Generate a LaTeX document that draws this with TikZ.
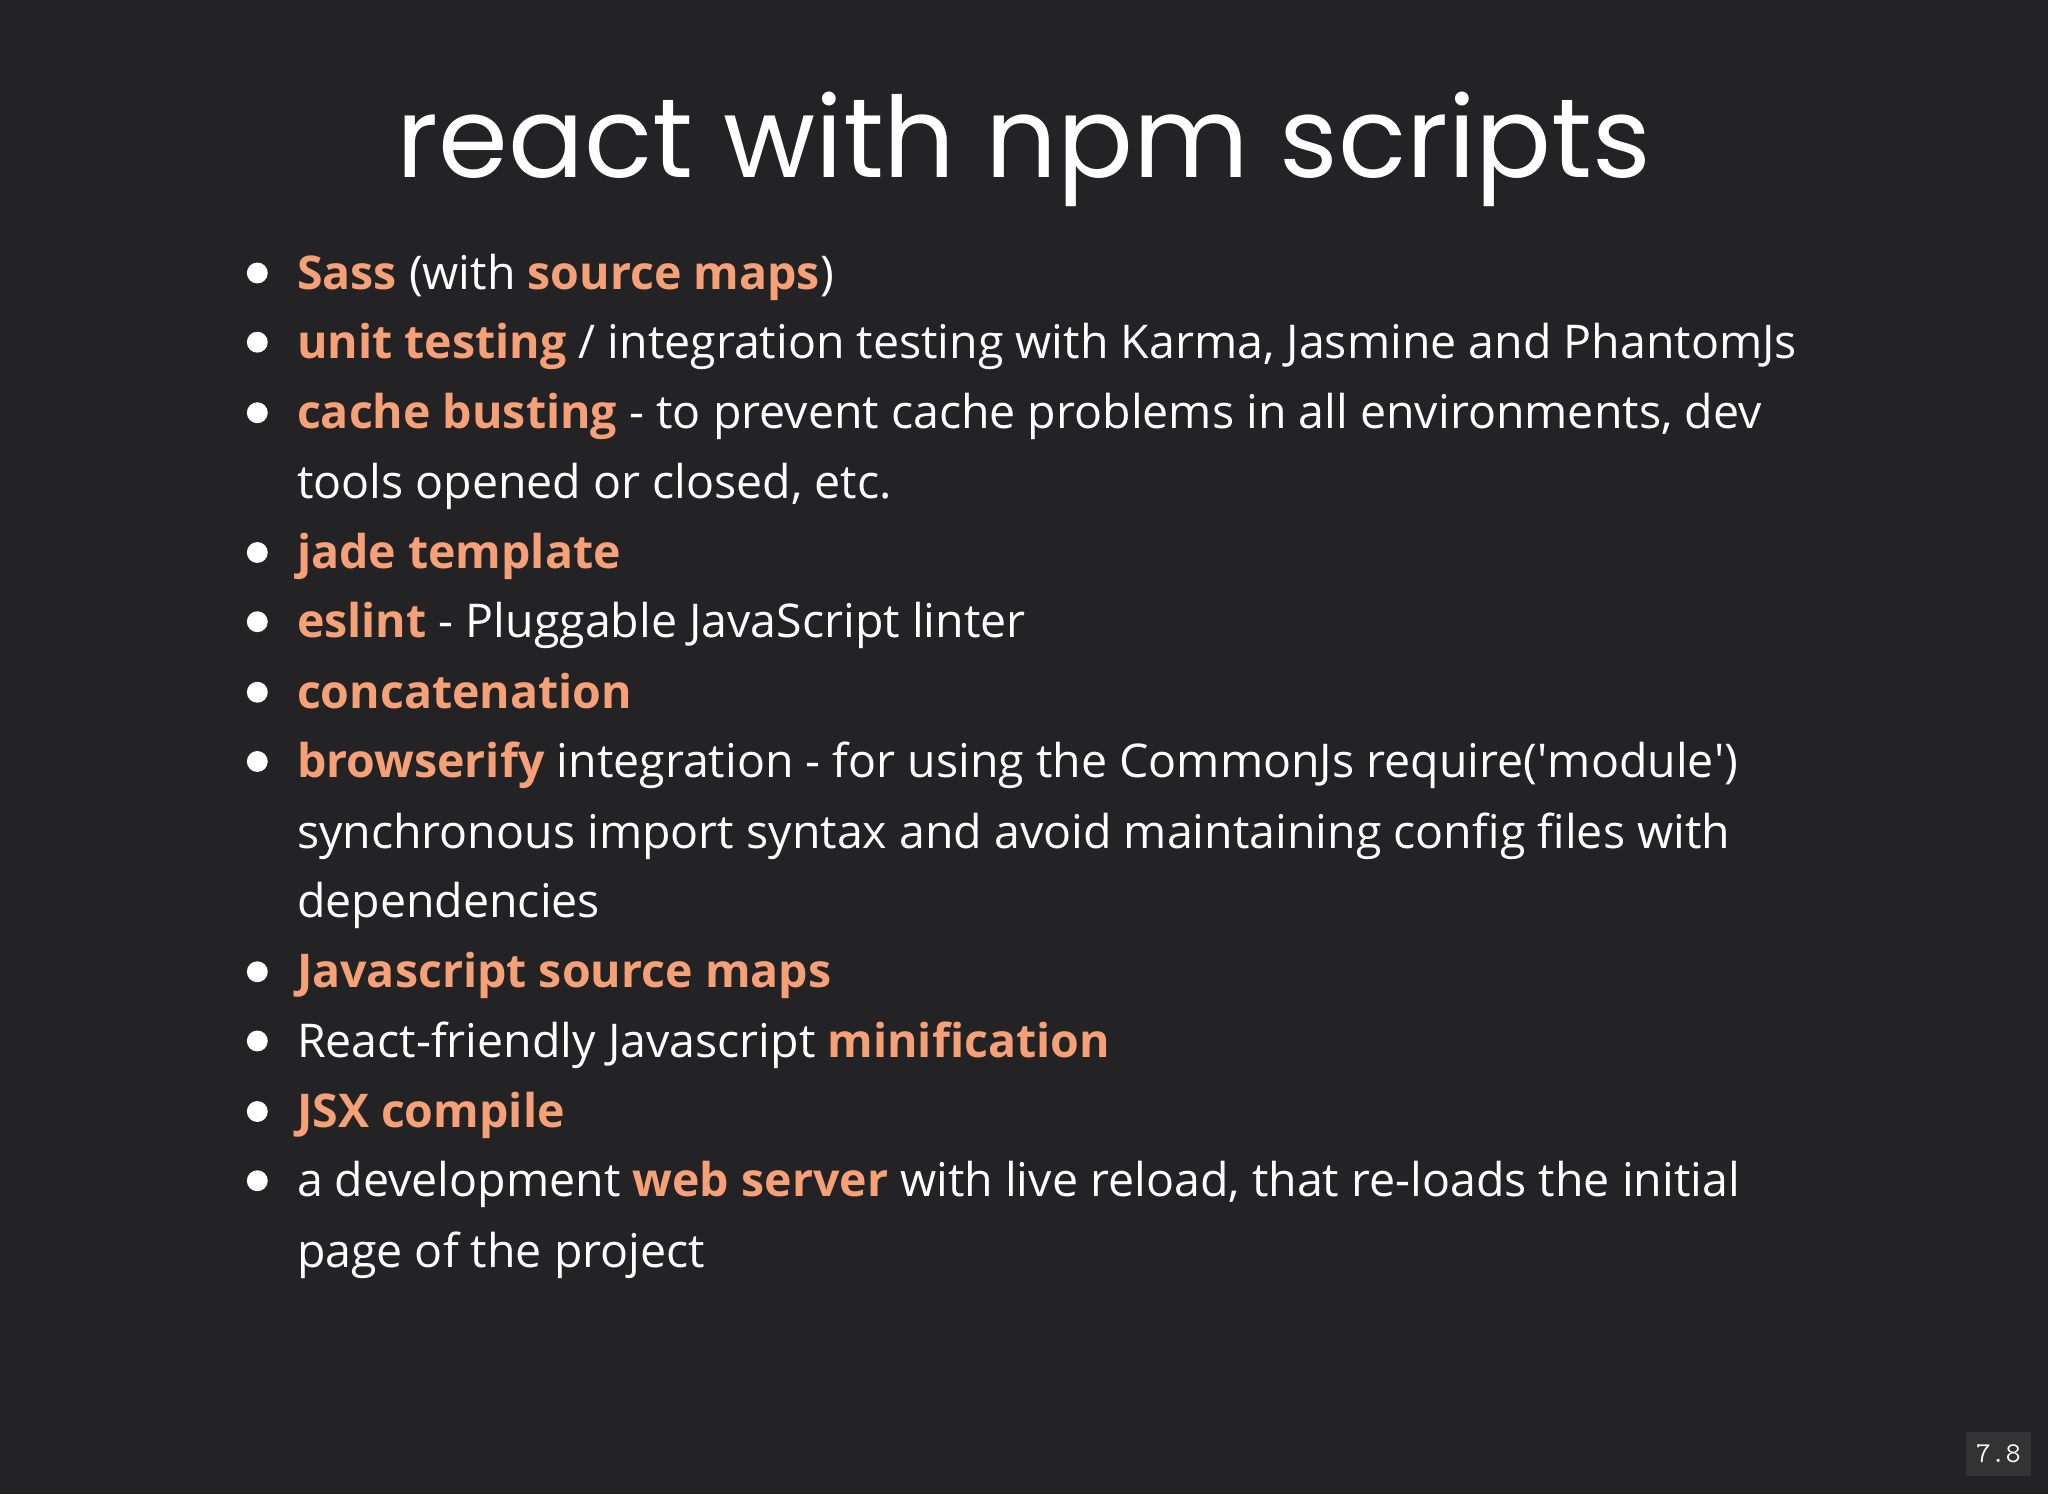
\documentclass[tikz,border=0pt]{standalone}
\usepackage{fontspec}
\setmainfont{Open Sans}
\newfontfamily\titlefont{Poppins}
\definecolor{bgc}{HTML}{232224}
\definecolor{hl}{HTML}{F5A077}
\definecolor{fg}{HTML}{FFFFFF}
\newcommand{\hlt}[1]{\textcolor{hl}{\bfseries #1}}
\begin{document}
\begin{tikzpicture}[x=0.5pt,y=-0.5pt,
  line/.style={anchor=mid west,inner sep=0pt,text=fg,font=\fontsize{17.8}{21}\selectfont}]
\fill[bgc] (0,0) rectangle (1568,1144);
\useasboundingbox (0,0) rectangle (1568,1144);
\node[text=fg,font=\titlefont\fontsize{43}{50}\selectfont,inner sep=0pt] (title) at (784,114) {react with npm scripts};
\foreach \y in {209,262,316,423,476,530,583,744,797,851,904} \fill[fg] (197,\y) circle (4pt);
\begin{scope}[yshift=-3.5pt]
\node[line] (l1) at (227,209) {\hlt{Sass} (with \hlt{source maps})};
\node[line] (l2) at (227,262) {\hlt{unit testing} / integration testing with Karma, Jasmine and PhantomJs};
\node[line] (l3) at (227,316) {\hlt{cache busting} - to prevent cache problems in all environments, dev};
\node[line] (l3b) at (227,369) {tools opened or closed, etc.};
\node[line] (l4) at (227,423) {\hlt{jade template}};
\node[line] (l5) at (227,476) {\hlt{eslint} - Pluggable JavaScript linter};
\node[line] (l6) at (227,530) {\hlt{concatenation}};
\node[line] (l7) at (227,583) {\hlt{browserify} integration - for using the CommonJs require(\textquotesingle module\textquotesingle)};
\node[line] (l7b) at (227,637) {synchronous import syntax and avoid maintaining config files with};
\node[line] (l7c) at (227,690) {dependencies};
\node[line] (l8) at (227,744) {\hlt{Javascript source maps}};
\node[line] (l9) at (227,797) {React-friendly Javascript \hlt{minification}};
\node[line] (l10) at (227,851) {\hlt{JSX compile}};
\node[line] (l11) at (227,904) {a development \hlt{web server} with live reload, that re-loads the initial};
\node[line] (l11b) at (227,958) {page of the project};
\end{scope}
\node[fill=black!80,text=fg,font=\ttfamily\fontsize{11}{12}\selectfont,minimum width=25pt,minimum height=17pt,inner sep=1pt] (pg) at (1530,1113) {7.8};
\end{tikzpicture}
\end{document}
